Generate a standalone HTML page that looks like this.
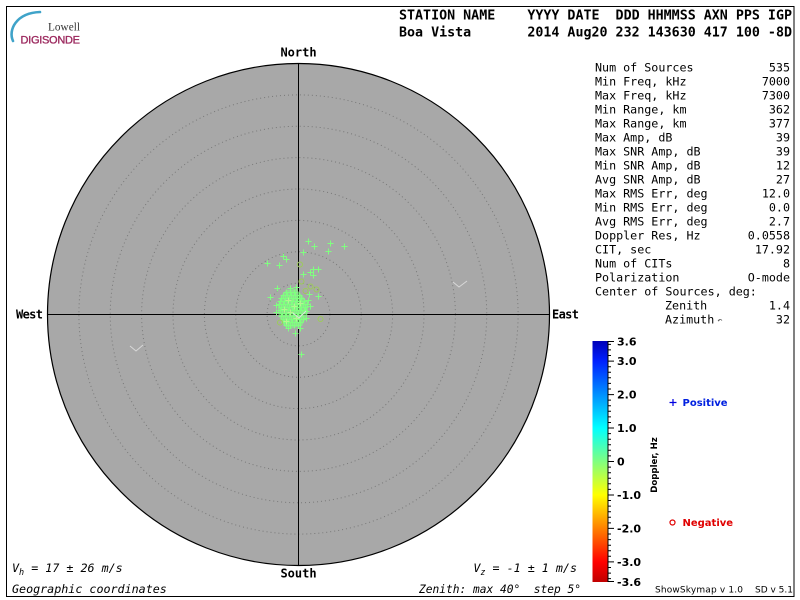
<!DOCTYPE html>
<html><head><meta charset="utf-8"><style>
html,body{margin:0;padding:0;background:#fff;}
svg{display:block;}
text{white-space:pre;}
.mono{font-family:"DejaVu Sans Mono","Liberation Mono",monospace;}
.monob{font-family:"DejaVu Sans Mono","Liberation Mono",monospace;font-weight:bold;}
.sans{font-family:"DejaVu Sans","Liberation Sans",sans-serif;}
</style></head><body>
<svg width="800" height="600" viewBox="0 0 800 600" xmlns="http://www.w3.org/2000/svg" xml:space="preserve">
<defs>
<linearGradient id="jet" x1="0" y1="0" x2="0" y2="1">
<stop offset="0" stop-color="#0000b8"/>
<stop offset="0.083" stop-color="#0020ff"/>
<stop offset="0.222" stop-color="#0090ff"/>
<stop offset="0.361" stop-color="#00ffff"/>
<stop offset="0.5" stop-color="#80ff80"/>
<stop offset="0.639" stop-color="#ffff00"/>
<stop offset="0.778" stop-color="#ff8000"/>
<stop offset="0.917" stop-color="#ff0000"/>
<stop offset="1" stop-color="#c00000"/>
</linearGradient>
</defs>
<rect x="0" y="0" width="800" height="600" fill="#fff"/>
<rect x="6.5" y="6.5" width="787.5" height="590" fill="none" stroke="#000" stroke-width="1"/>

<!-- logo -->
<path d="M13 41 C 8 30, 16 13, 40 12" fill="none" stroke="#3fa3c9" stroke-width="2.6" stroke-linecap="round"/>
<text x="48" y="30.5" font-family="Liberation Serif, serif" font-size="11.2" fill="#333" textLength="32">Lowell</text>
<text x="20.5" y="43.3" font-family="Liberation Sans, sans-serif" font-size="11" fill="#9c2a5f" stroke="#9c2a5f" stroke-width="0.35" textLength="59.5">DIGISONDE</text>

<!-- header -->
<text class="monob" x="399" y="19.5" font-size="13" textLength="393" lengthAdjust="spacingAndGlyphs">STATION NAME    YYYY DATE  DDD HHMMSS AXN PPS IGP</text>
<text class="monob" x="399" y="36.5" font-size="13" textLength="393" lengthAdjust="spacingAndGlyphs">Boa Vista       2014 Aug20 232 143630 417 100 -8D</text>

<!-- skymap -->
<circle cx="298.5" cy="314.5" r="251" fill="#a8a8a8" stroke="#000" stroke-width="1.2"/>
<g fill="none" stroke="#787878" stroke-width="1" stroke-dasharray="1 3">
<circle cx="298.5" cy="314.5" r="31.4"/>
<circle cx="298.5" cy="314.5" r="62.75"/>
<circle cx="298.5" cy="314.5" r="94.1"/>
<circle cx="298.5" cy="314.5" r="125.5"/>
<circle cx="298.5" cy="314.5" r="156.9"/>
<circle cx="298.5" cy="314.5" r="188.25"/>
<circle cx="298.5" cy="314.5" r="219.6"/>
</g>
<path d="M47.5 314.5H549.5M298.5 63.5V565.5" stroke="#000" stroke-width="1"/>

<!-- velocity marks -->
<g fill="none" stroke="#d8d8d8" stroke-width="1">
<polyline points="453,282 459,287 467,281"/>
<polyline points="130,346 136,351 143,345"/>
</g>

<!-- cluster blob -->
<polygon points="286,290 296,289 301,294 305,299 308,306 308,313 305,320 302,326 293,328 285,327 281,321 278,313 278,304 281,296" fill="#80ff80" fill-opacity="0.6"/>

<!-- scattered plus markers -->
<path fill="none" stroke="#80ff80" stroke-width="1" d="
M308.5 241.5m-3 0h6m-3-3v6
M330.5 243.5m-3 0h6m-3-3v6
M314.5 246.5m-3 0h6m-3-3v6
M344.5 246.5m-3 0h6m-3-3v6
M303.5 252.5m-3 0h6m-3-3v6
M328.5 251.5m-3 0h6m-3-3v6
M283.5 256.5m-3 0h6m-3-3v6
M286.5 259.5m-3 0h6m-3-3v6
M267.5 263.5m-3 0h6m-3-3v6
M279.5 265.5m-3 0h6m-3-3v6
M313.5 269.5m-3 0h6m-3-3v6
M318.5 269.5m-3 0h6m-3-3v6
M310.5 272.5m-3 0h6m-3-3v6
M313.5 275.5m-3 0h6m-3-3v6
M303.5 274.5m-3 0h6m-3-3v6
M277.5 288.5m-3 0h6m-3-3v6
M318.5 296.5m-3 0h6m-3-3v6
M270.5 297.5m-3 0h6m-3-3v6
M309.5 294.5m-3 0h6m-3-3v6
M307.5 304.5m-3 0h6m-3-3v6
M310.5 306.5m-3 0h6m-3-3v6
M306.5 311.5m-3 0h6m-3-3v6
M295.5 333.5m-3 0h6m-3-3v6
M301.5 354.5m-3 0h6m-3-3v6
M290.5 288.5m-3 0h6m-3-3v6
M296.5 287.5m-3 0h6m-3-3v6
M276.5 305.5m-3 0h6m-3-3v6
M308.5 300.5m-3 0h6m-3-3v6
M306.5 318.5m-3 0h6m-3-3v6
M276.5 312.5m-3 0h6m-3-3v6
M300.5 328.5m-3 0h6m-3-3v6
M288.5 328.5m-3 0h6m-3-3v6
M286.5 292.5m-3 0h6m-3-3v6
M290.5 292.5m-3 0h6m-3-3v6
M294.5 292.5m-3 0h6m-3-3v6
M283.5 295.5m-3 0h6m-3-3v6
M287.5 295.5m-3 0h6m-3-3v6
M291.5 295.5m-3 0h6m-3-3v6
M295.5 295.5m-3 0h6m-3-3v6
M299.5 295.5m-3 0h6m-3-3v6
M281.5 298.5m-3 0h6m-3-3v6
M285.5 298.5m-3 0h6m-3-3v6
M289.5 298.5m-3 0h6m-3-3v6
M293.5 298.5m-3 0h6m-3-3v6
M297.5 298.5m-3 0h6m-3-3v6
M301.5 298.5m-3 0h6m-3-3v6
M280.5 301.5m-3 0h6m-3-3v6
M284.5 301.5m-3 0h6m-3-3v6
M288.5 301.5m-3 0h6m-3-3v6
M292.5 301.5m-3 0h6m-3-3v6
M296.5 301.5m-3 0h6m-3-3v6
M300.5 301.5m-3 0h6m-3-3v6
M304.5 301.5m-3 0h6m-3-3v6
M279.5 304.5m-3 0h6m-3-3v6
M283.5 304.5m-3 0h6m-3-3v6
M287.5 304.5m-3 0h6m-3-3v6
M291.5 304.5m-3 0h6m-3-3v6
M295.5 304.5m-3 0h6m-3-3v6
M299.5 304.5m-3 0h6m-3-3v6
M303.5 304.5m-3 0h6m-3-3v6
M281.5 307.5m-3 0h6m-3-3v6
M285.5 307.5m-3 0h6m-3-3v6
M289.5 307.5m-3 0h6m-3-3v6
M293.5 307.5m-3 0h6m-3-3v6
M297.5 307.5m-3 0h6m-3-3v6
M301.5 307.5m-3 0h6m-3-3v6
M305.5 307.5m-3 0h6m-3-3v6
M280.5 310.5m-3 0h6m-3-3v6
M284.5 310.5m-3 0h6m-3-3v6
M288.5 310.5m-3 0h6m-3-3v6
M292.5 310.5m-3 0h6m-3-3v6
M296.5 310.5m-3 0h6m-3-3v6
M300.5 310.5m-3 0h6m-3-3v6
M304.5 310.5m-3 0h6m-3-3v6
M282.5 313.5m-3 0h6m-3-3v6
M286.5 313.5m-3 0h6m-3-3v6
M290.5 313.5m-3 0h6m-3-3v6
M294.5 313.5m-3 0h6m-3-3v6
M298.5 313.5m-3 0h6m-3-3v6
M302.5 313.5m-3 0h6m-3-3v6
M281.5 316.5m-3 0h6m-3-3v6
M285.5 316.5m-3 0h6m-3-3v6
M289.5 316.5m-3 0h6m-3-3v6
M293.5 316.5m-3 0h6m-3-3v6
M297.5 316.5m-3 0h6m-3-3v6
M301.5 316.5m-3 0h6m-3-3v6
M283.5 319.5m-3 0h6m-3-3v6
M287.5 319.5m-3 0h6m-3-3v6
M291.5 319.5m-3 0h6m-3-3v6
M295.5 319.5m-3 0h6m-3-3v6
M299.5 319.5m-3 0h6m-3-3v6
M303.5 319.5m-3 0h6m-3-3v6
M284.5 322.5m-3 0h6m-3-3v6
M288.5 322.5m-3 0h6m-3-3v6
M292.5 322.5m-3 0h6m-3-3v6
M296.5 322.5m-3 0h6m-3-3v6
M300.5 322.5m-3 0h6m-3-3v6
M286.5 325.5m-3 0h6m-3-3v6
M290.5 325.5m-3 0h6m-3-3v6
M294.5 325.5m-3 0h6m-3-3v6
M298.5 325.5m-3 0h6m-3-3v6
"/>
<path fill="none" stroke="#b4f890" stroke-width="1" d="
M288.5 300.5m-3 0h6m-3-3v6
M294.5 306.5m-3 0h6m-3-3v6
M290.5 312.5m-3 0h6m-3-3v6
M296.5 318.5m-3 0h6m-3-3v6
M284.5 309.5m-3 0h6m-3-3v6
M300.5 303.5m-3 0h6m-3-3v6
M286.5 321.5m-3 0h6m-3-3v6
"/>
<!-- negative markers -->
<g fill="none" stroke="#9ccc58" stroke-width="1">
<circle cx="300" cy="264.5" r="2.5"/>
<circle cx="301.5" cy="281.5" r="2.5"/>
<circle cx="316.5" cy="289.5" r="2.5"/>
<circle cx="310.5" cy="286.5" r="2.5"/>
<circle cx="320.5" cy="319" r="2.5"/>
<circle cx="280" cy="322.5" r="2.5"/>
<circle cx="305.5" cy="291" r="2.5"/>
</g>
<polyline points="293,313 299,318 306,311" fill="none" stroke="#e0e0e0" stroke-width="1"/>

<!-- compass labels -->
<text class="monob" x="298.5" y="56.5" font-size="12" text-anchor="middle">North</text>
<text class="monob" x="298.5" y="577.5" font-size="12" text-anchor="middle">South</text>
<text class="monob" x="16" y="318.5" font-size="12" textLength="27">West</text>
<text class="monob" x="552" y="318.5" font-size="12" textLength="27">East</text>

<!-- bottom texts -->
<text class="mono" x="12" y="572" font-size="11.7" font-style="italic">V<tspan font-size="8.5" dy="3">h</tspan><tspan dy="-3"> = 17 ± 26 m/s</tspan></text>
<text class="mono" x="12" y="593" font-size="11.7" font-style="italic">Geographic coordinates</text>
<text class="mono" x="577" y="572" font-size="11.7" font-style="italic" text-anchor="end">V<tspan font-size="8.5" dy="3">z</tspan><tspan dy="-3"> = -1 ± 1 m/s</tspan></text>
<text class="mono" x="419" y="593" font-size="11.7" font-style="italic" textLength="162" lengthAdjust="spacingAndGlyphs">Zenith: max 40°  step 5°</text>

<!-- stats -->
<g class="mono" font-size="11.7" fill="#000">
<text x="595" y="71.5">Num of Sources</text><text x="790" y="71.5" text-anchor="end">535</text>
<text x="595" y="85.5">Min Freq, kHz</text><text x="790" y="85.5" text-anchor="end">7000</text>
<text x="595" y="99.5">Max Freq, kHz</text><text x="790" y="99.5" text-anchor="end">7300</text>
<text x="595" y="113.5">Min Range, km</text><text x="790" y="113.5" text-anchor="end">362</text>
<text x="595" y="127.5">Max Range, km</text><text x="790" y="127.5" text-anchor="end">377</text>
<text x="595" y="141.5">Max Amp, dB</text><text x="790" y="141.5" text-anchor="end">39</text>
<text x="595" y="155.5">Max SNR Amp, dB</text><text x="790" y="155.5" text-anchor="end">39</text>
<text x="595" y="169.5">Min SNR Amp, dB</text><text x="790" y="169.5" text-anchor="end">12</text>
<text x="595" y="183.5">Avg SNR Amp, dB</text><text x="790" y="183.5" text-anchor="end">27</text>
<text x="595" y="197.5">Max RMS Err, deg</text><text x="790" y="197.5" text-anchor="end">12.0</text>
<text x="595" y="211.5">Min RMS Err, deg</text><text x="790" y="211.5" text-anchor="end">0.0</text>
<text x="595" y="225.5">Avg RMS Err, deg</text><text x="790" y="225.5" text-anchor="end">2.7</text>
<text x="595" y="239.5">Doppler Res, Hz</text><text x="790" y="239.5" text-anchor="end">0.0558</text>
<text x="595" y="253.5">CIT, sec</text><text x="790" y="253.5" text-anchor="end">17.92</text>
<text x="595" y="267.5">Num of CITs</text><text x="790" y="267.5" text-anchor="end">8</text>
<text x="595" y="281.5">Polarization</text><text x="790" y="281.5" text-anchor="end">O-mode</text>
<text x="595" y="295.5">Center of Sources, deg:</text>
<text x="665" y="309.5">Zenith</text><text x="790" y="309.5" text-anchor="end">1.4</text>
<text x="665" y="323.5">Azimuth</text><text x="790" y="323.5" text-anchor="end">32</text>
</g>
<path d="M718 321 q2 -3 4 -0.5 M718 321 l1.5 -0.5" fill="none" stroke="#555" stroke-width="0.8"/>

<!-- colorbar -->
<rect x="592.5" y="341" width="16" height="241" fill="url(#jet)"/>
<path stroke="#000" stroke-width="1" fill="none" d="
M608 341.5h6M608 361.1h6M608 394.6h6M608 428h6M608 461.5h6M608 495h6M608 528.4h6M608 561.9h6M608 581.5h6
M608 455.9h3M608 450.3h3M608 444.8h3M608 439.2h3M608 433.6h3M608 422.5h3M608 416.9h3M608 411.3h3M608 405.7h3M608 400.1h3
M608 389h3M608 383.4h3M608 377.8h3M608 372.3h3M608 366.7h3M608 355.5h3M608 349.9h3M608 344.4h3
M608 467.1h3M608 472.7h3M608 478.2h3M608 483.8h3M608 489.4h3M608 500.5h3M608 506.1h3M608 511.7h3M608 517.3h3M608 522.9h3
M608 534h3M608 539.6h3M608 545.2h3M608 550.7h3M608 556.3h3M608 567.5h3M608 573.1h3M608 578.6h3
M608 341v241"/>
<g class="sans" font-size="11" font-weight="bold" fill="#000">
<text x="617" y="345.5">3.6</text>
<text x="617" y="365.1">3.0</text>
<text x="617" y="398.6">2.0</text>
<text x="617" y="432">1.0</text>
<text x="617" y="465.5">0</text>
<text x="617" y="499">-1.0</text>
<text x="617" y="532.4">-2.0</text>
<text x="617" y="565.9">-3.0</text>
<text x="617" y="586">-3.6</text>
</g>
<text class="sans" x="0" y="0" font-size="8.6" font-weight="bold" text-anchor="middle" transform="translate(657 465) rotate(-90)">Doppler, Hz</text>

<!-- legend -->
<path d="M669.5 402.5h7M673 399v7" stroke="#0000e0" stroke-width="1.2" fill="none"/>
<text class="sans" x="682.5" y="406" font-size="10" font-weight="bold" fill="#0020e0">Positive</text>
<circle cx="672.5" cy="522.5" r="2.5" fill="none" stroke="#e00000" stroke-width="1.2"/>
<text class="sans" x="682.5" y="526" font-size="10" font-weight="bold" fill="#e00000">Negative</text>

<text class="sans" x="655" y="592.5" font-size="9" textLength="88">ShowSkymap v 1.0</text>
<text class="sans" x="793" y="592.5" font-size="9" text-anchor="end">SD v 5.1</text>
</svg>
</body></html>
